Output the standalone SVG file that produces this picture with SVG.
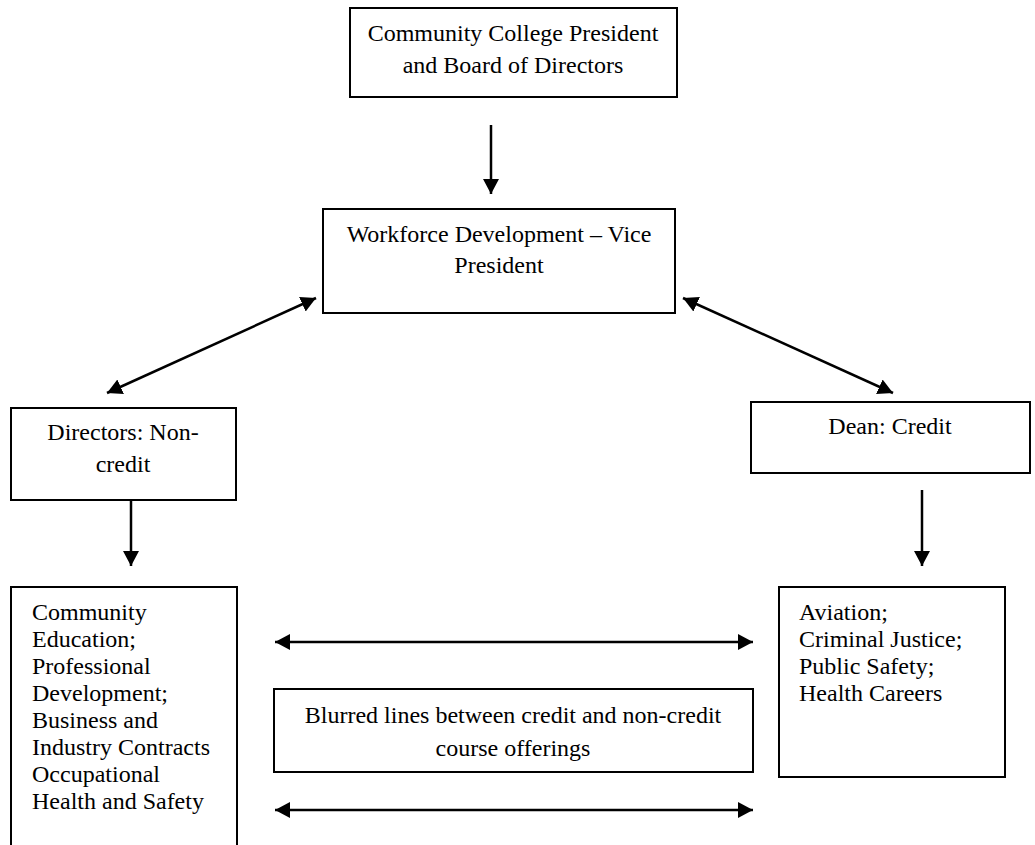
<svg xmlns="http://www.w3.org/2000/svg" width="1035" height="845" viewBox="0 0 1035 845">
<style>
.box{fill:#fff;stroke:#000;stroke-width:2}
.t{font-family:"Liberation Serif","Times New Roman",serif;font-size:24px;fill:#000}
.c{text-anchor:middle}
.ln{stroke:#000;stroke-width:2.5;fill:none}
</style>
<defs>
<marker id="ah" markerUnits="userSpaceOnUse" markerWidth="18" markerHeight="18" refX="15" refY="8" orient="auto-start-reverse" viewBox="0 0 18 16">
<path d="M0,0 L15,8 L0,16 Z" fill="#000"/>
</marker>
</defs>
<rect width="1035" height="845" fill="#fff"/>
<g id="connectors">
<line class="ln" x1="491" y1="125" x2="491" y2="194" marker-end="url(#ah)"/>
<line class="ln" x1="316" y1="298" x2="107" y2="393" marker-start="url(#ah)" marker-end="url(#ah)"/>
<line class="ln" x1="683" y1="298" x2="893" y2="393" marker-start="url(#ah)" marker-end="url(#ah)"/>
<line class="ln" x1="131" y1="490" x2="131" y2="566" marker-end="url(#ah)"/>
<line class="ln" x1="922" y1="490" x2="922" y2="566" marker-end="url(#ah)"/>
<line class="ln" x1="275" y1="642" x2="753" y2="642" marker-start="url(#ah)" marker-end="url(#ah)"/>
<line class="ln" x1="275" y1="810" x2="753" y2="810" marker-start="url(#ah)" marker-end="url(#ah)"/>
</g>
<g id="president">
<rect class="box" x="350" y="8" width="327" height="89"/>
<text class="t c" x="513" y="41">Community College President</text>
<text class="t c" x="513" y="73">and Board of Directors</text>
</g>
<g id="vicepresident">
<rect class="box" x="323" y="209" width="352" height="104"/>
<text class="t c" x="499" y="242">Workforce Development – Vice</text>
<text class="t c" x="499" y="273">President</text>
</g>
<g id="directors">
<rect class="box" x="11" y="408" width="225" height="92"/>
<text class="t c" x="123" y="440">Directors: Non-</text>
<text class="t c" x="123" y="472">credit</text>
</g>
<g id="dean">
<rect class="box" x="751" y="402" width="279" height="71"/>
<text class="t c" x="890" y="434">Dean: Credit</text>
</g>
<g id="noncredit-programs">
<rect class="box" x="11" y="587" width="226" height="280"/>
<text class="t" x="32" y="620">Community</text>
<text class="t" x="32" y="647">Education;</text>
<text class="t" x="32" y="674">Professional</text>
<text class="t" x="32" y="701">Development;</text>
<text class="t" x="32" y="728">Business and</text>
<text class="t" x="32" y="755">Industry Contracts</text>
<text class="t" x="32" y="782">Occupational</text>
<text class="t" x="32" y="809">Health and Safety</text>
</g>
<g id="credit-programs">
<rect class="box" x="779" y="587" width="226" height="190"/>
<text class="t" x="799" y="620">Aviation;</text>
<text class="t" x="799" y="647">Criminal Justice;</text>
<text class="t" x="799" y="674">Public Safety;</text>
<text class="t" x="799" y="701">Health Careers</text>
</g>
<g id="blurred">
<rect class="box" x="274" y="689" width="479" height="83"/>
<text class="t c" x="513" y="723">Blurred lines between credit and non-credit</text>
<text class="t c" x="513" y="756">course offerings</text>
</g>
</svg>
